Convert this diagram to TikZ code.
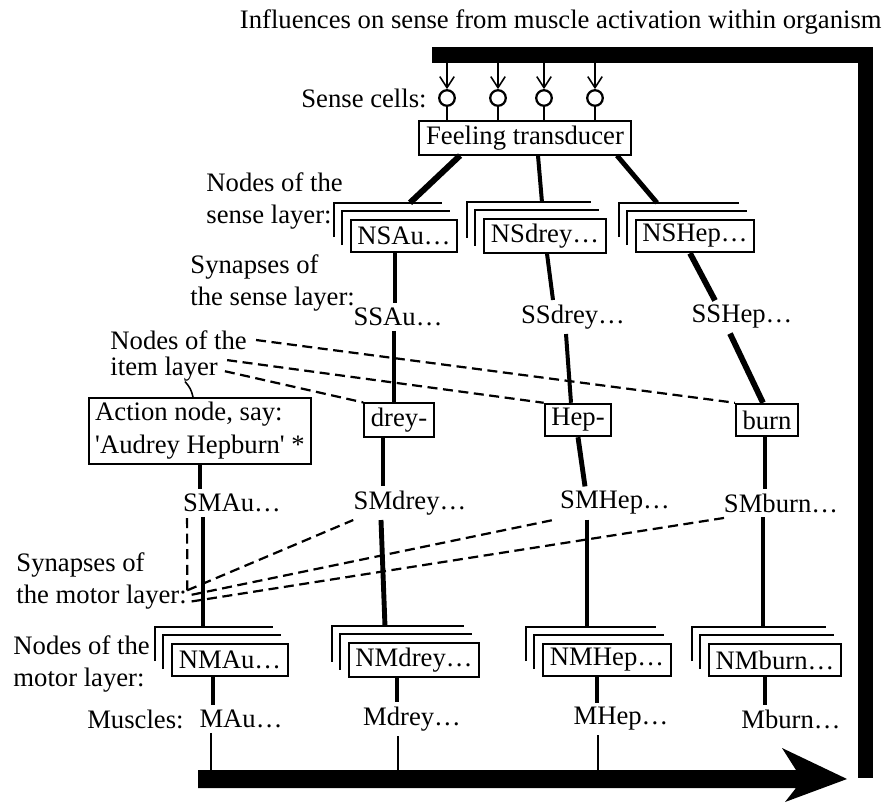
\documentclass[tikz,border=0pt]{standalone}
\usepackage{fontspec}
\setmainfont{Liberation Serif}
\usetikzlibrary{arrows.meta}

% two shifted corners behind a layer box, and the point where a link meets them
\newcommand{\layerstack}[1]{%
  \draw[stackline] ([shift={(-16,-16)}]#1.south west) |- ([shift={(-16,-16)}]#1.north east);
  \draw[stackline] ([shift={(-8,-8)}]#1.south west) |- ([shift={(-8,-8)}]#1.north east);
  \coordinate (#1top) at ([shift={(0,-16)}]#1.north);
}

\begin{document}
\begin{tikzpicture}[x=0.45pt,y=-0.45pt,
    every node/.style={font=\fontsize{12}{14.8}\selectfont},
    lbl/.style={inner sep=0pt,align=left},
    box/.style={draw,line width=0.9pt,inner xsep=3pt,inner ysep=2pt,minimum height=14.6pt},
    cell/.style={draw,circle,line width=1pt,inner sep=0pt,minimum size=7pt},
    hair/.style={line width=0.7pt},
    stackline/.style={line width=0.9pt},
    link/.style={line width=2.2pt},
    dashlink/.style={line width=1pt,dash pattern=on 4.5pt off 2.5pt},
    syn/.style={inner sep=2pt}]
  \useasboundingbox (0,0) rectangle (892,803);

  \node[lbl,anchor=east] (title) at (882,22) {Influences on sense from muscle activation within organism};
  \fill (432,47) rectangle (873,63); % feedback bar over the sense cells
  \fill (858,47) rectangle (873,778);
  \coordinate (bar) at (0,63);

  % sense cells and transducer
  \node[lbl,anchor=east] (cells) at (427,98) {Sense cells:};
  \node[box] (ft) at (525,138) {Feeling transducer};
  \foreach \n/\x in {1/447,2/498,3/544,4/595}{
      \node[cell] (cell\n) at (\x,98) {};
      \draw[hair,-{Straight Barb[length=5pt,width=6.5pt]}] (cell\n |- bar) -- (cell\n.north);
      \draw[hair] (cell\n.south) -- (cell\n |- ft.north);
    }

  % sense layer
  \node[lbl,anchor=west] (nslbl) at (206,201) {Nodes of the\\sense layer:};
  \node[box] (nsau) at (404,236) {NSAu…};
  \node[box] (nsdrey) at (545,236) {NSdrey…};
  \node[box] (nshep) at (695,236) {NSHep…};
  \foreach \n in {nsau,nsdrey,nshep}{\layerstack{\n}}
  \draw[link,line width=2.7pt] (460,0 |- ft.south) -- (410,0 |- nsautop);
  \draw[link,line width=1.8pt] (538,0 |- ft.south) -- (542,0 |- nsdreytop);
  \draw[link] (617,0 |- ft.south) -- (657,0 |- nsheptop);

  \node[lbl,anchor=west] (sslbl) at (190,283) {Synapses of\\the sense layer:};
  \node[syn] (ssau) at (398,317) {SSAu…};
  \node[syn] (ssdrey) at (573,317) {SSdrey…};
  \node[syn] (sshep) at (742,317) {SSHep…};
  \draw[link] (395,0 |- nsau.south) -- (395,0 |- ssau.north);
  \draw[link,line width=1.8pt] (547,0 |- nsdrey.south) -- (553,0 |- ssdrey.north);
  \draw[link,line width=2.6pt] (690,0 |- nshep.south) -- (715,0 |- sshep.north);

  % item layer
  \node[lbl,anchor=west] (itema) at (110,340) {Nodes of the};
  \node[lbl,anchor=west] (itemb) at (110,369) {item layer};
  \node[box] (drey) at (399,420) {drey-};
  \node[box] (hep) at (578,420) {Hep-};
  \node[box] (burn) at (767,420) {burn};
  \node[box,align=left] (act) at (200,431) {Action node, say:\\\textquotesingle Audrey Hepburn\textquotesingle{} *};
  \draw[link] (394,0 |- ssau.south) -- (394,0 |- drey.north);
  \draw[link,line width=1.8pt] (566,0 |- ssdrey.south) -- (571,0 |- hep.north);
  \draw[link,line width=2.6pt] (730,0 |- sshep.south) -- (763,0 |- burn.north);
  \draw[hair] (185,0 |- itemb.south) to[bend left=15] (193,0 |- act.north);
  \draw[dashlink] ([xshift=4pt]itema.east) -- (burn.north west);
  \draw[dashlink] ([xshift=4pt,yshift=4pt]itemb.east) -- (hep.north west);
  \draw[dashlink] ([xshift=3pt,yshift=-1pt]itemb.east) -- (drey.north west);

  % motor layer
  \node[syn] (smau) at (232,503) {SMAu…};
  \node[syn] (smdrey) at (410,503) {SMdrey…};
  \node[syn] (smhep) at (615,503) {SMHep…};
  \node[syn] (smburn) at (781,503) {SMburn…};
  \draw[link] (200,0 |- act.south) -- (200,0 |- smau.north);
  \draw[link] (383,0 |- drey.south) -- (383,0 |- smdrey.north);
  \draw[link] (578,0 |- hep.south) -- (585,0 |- smhep.north);
  \draw[link] (765,0 |- burn.south) -- (765,0 |- smburn.north);

  \node[lbl,anchor=west] (motora) at (16,565) {Synapses of};
  \node[lbl,anchor=west] (motorb) at (16,597) {the motor layer:};
  \draw[dashlink] ([yshift=3pt]motorb.east) -- ([xshift=4pt]smau.south west);
  \draw[dashlink] ([yshift=3pt]motorb.east) -- ([xshift=2pt]smdrey.south west);
  \draw[dashlink] ([xshift=2pt,yshift=1pt]motorb.east) -- (smhep.south west);
  \draw[dashlink] ([xshift=2pt,yshift=-2pt]motorb.east) -- ([xshift=4pt]smburn.south west);

  \node[lbl,anchor=west] (nmlbl) at (13,664) {Nodes of the\\motor layer:};
  \node[box] (nmau) at (230,660) {NMAu…};
  \node[box] (nmdrey) at (414,660) {NMdrey…};
  \node[box] (nmhep) at (607,660) {NMHep…};
  \node[box] (nmburn) at (775,660) {NMburn…};
  \foreach \n in {nmau,nmdrey,nmhep,nmburn}{\layerstack{\n}}
  \draw[link] (203,0 |- smau.south) -- (203,0 |- nmautop);
  \draw[link] (381,0 |- smdrey.south) -- (385,0 |- nmdreytop);
  \draw[link] (587,0 |- smhep.south) -- (587,0 |- nmheptop);
  \draw[link] (763,0 |- smburn.south) -- (763,0 |- nmburntop);

  % muscles and the activation arrow
  \node[lbl,anchor=east] (muslbl) at (184,719) {Muscles:};
  \node[syn] (mau) at (241,719) {MAu…};
  \node[syn] (mdrey) at (412,719) {Mdrey…};
  \node[syn] (mhep) at (621,719) {MHep…};
  \node[syn] (mburn) at (791,719) {Mburn…};
  \draw[link] (213,0 |- nmau.south) -- (213,0 |- mau.north);
  \draw[link] (397,0 |- nmdrey.south) -- (397,0 |- mdrey.north);
  \draw[link] (597,0 |- nmhep.south) -- (597,0 |- mhep.north);
  \draw[link] (765,0 |- nmburn.south) -- (765,0 |- mburn.north);
  \coordinate (shaft) at (0,770);
  \foreach \x/\n in {211/mau,398/mdrey,598/mhep}{
      \draw[hair] (\x,0 |- \n.south) -- (\x,0 |- shaft); % into the arrow
    }
  \fill (198,770) -- (796,770) -- (782,748) -- (847,779) -- (785,802) -- (796,788) -- (198,788) -- cycle;
\end{tikzpicture}
\end{document}
